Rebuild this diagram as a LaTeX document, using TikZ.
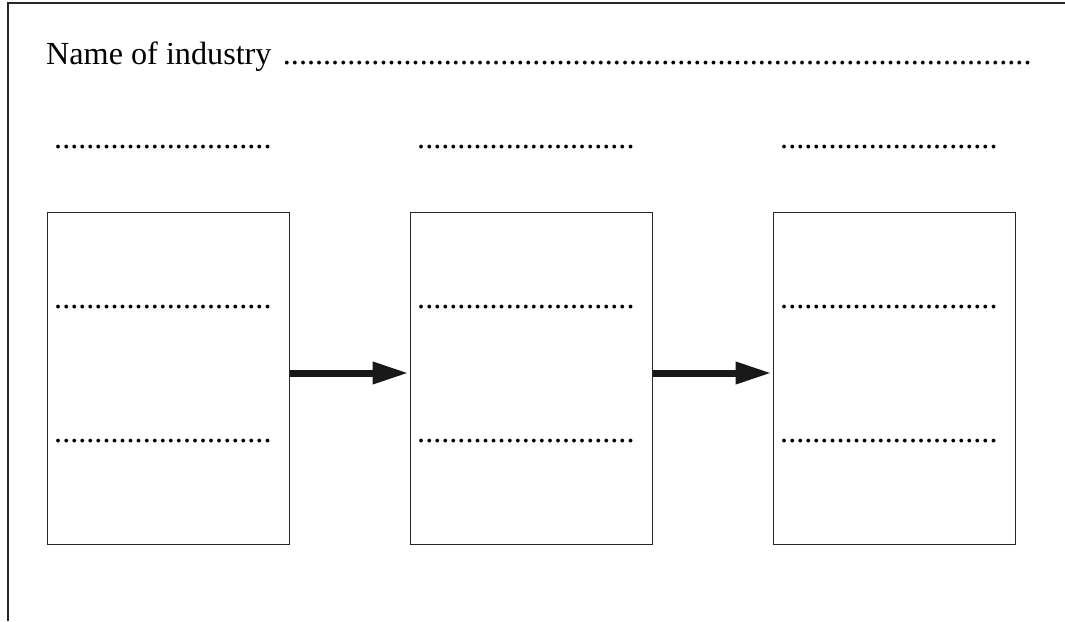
\documentclass[tikz,border=0pt]{standalone}
\usepackage{fontspec}
\setmainfont{Liberation Serif}
\usetikzlibrary{arrows.meta}
\makeatletter
\newcommand\myperiods[1]{\ifnum#1>0 .\expandafter\myperiods\expandafter{\the\numexpr#1-1\relax}\fi}
\makeatother
\tikzset{
  frameline/.style={line width=1.3pt, draw=black!85},
  stagebox/.style={draw=black!85, line width=1.3pt, minimum width=242pt, minimum height=332pt, inner sep=0pt, anchor=north west},
  dotrow/.style={anchor=base west, inner sep=0pt, font=\fontsize{32.2}{36}\selectfont},
  flowarrow/.style={line width=7pt, -{Triangle[length=36pt,width=21pt]}, shorten >=1.5pt, black!90},
}
\begin{document}
\begin{tikzpicture}[x=1pt,y=-1pt]
\useasboundingbox (0,0) rectangle (1065,621);
% frame
\coordinate (fc) at (8,3);
\coordinate (fb) at (8,621);
\coordinate (fr) at (1065,3);
\draw[frameline] (fb) -- (fc) -- (fr);
% heading
\node[dotrow] (name) at (46,64) {Name of industry};
\node[dotrow] (namedots) at (282.7,64) {\myperiods{93}};
% top labels
\node[dotrow] (t1) at (54,148) {\myperiods{27}};
\node[dotrow] (t2) at (417,148) {\myperiods{27}};
\node[dotrow] (t3) at (780,148) {\myperiods{27}};
% boxes
\node[stagebox] (b1) at (47,212) {};
\node[stagebox] (b2) at (410,212) {};
\node[stagebox] (b3) at (773,212) {};
% rows in boxes
\node[dotrow] (r11) at (54,308.5) {\myperiods{27}};
\node[dotrow] (r12) at (54,442.5) {\myperiods{27}};
\node[dotrow] (r21) at (417,308.5) {\myperiods{27}};
\node[dotrow] (r22) at (417,442.5) {\myperiods{27}};
\node[dotrow] (r31) at (780,308.5) {\myperiods{27}};
\node[dotrow] (r32) at (780,442.5) {\myperiods{27}};
% arrows
\coordinate (ay) at (0,373);
\draw[flowarrow] (b1.east |- ay) -- (b2.west |- ay);
\draw[flowarrow] (b2.east |- ay) -- (b3.west |- ay);
\end{tikzpicture}
\end{document}
